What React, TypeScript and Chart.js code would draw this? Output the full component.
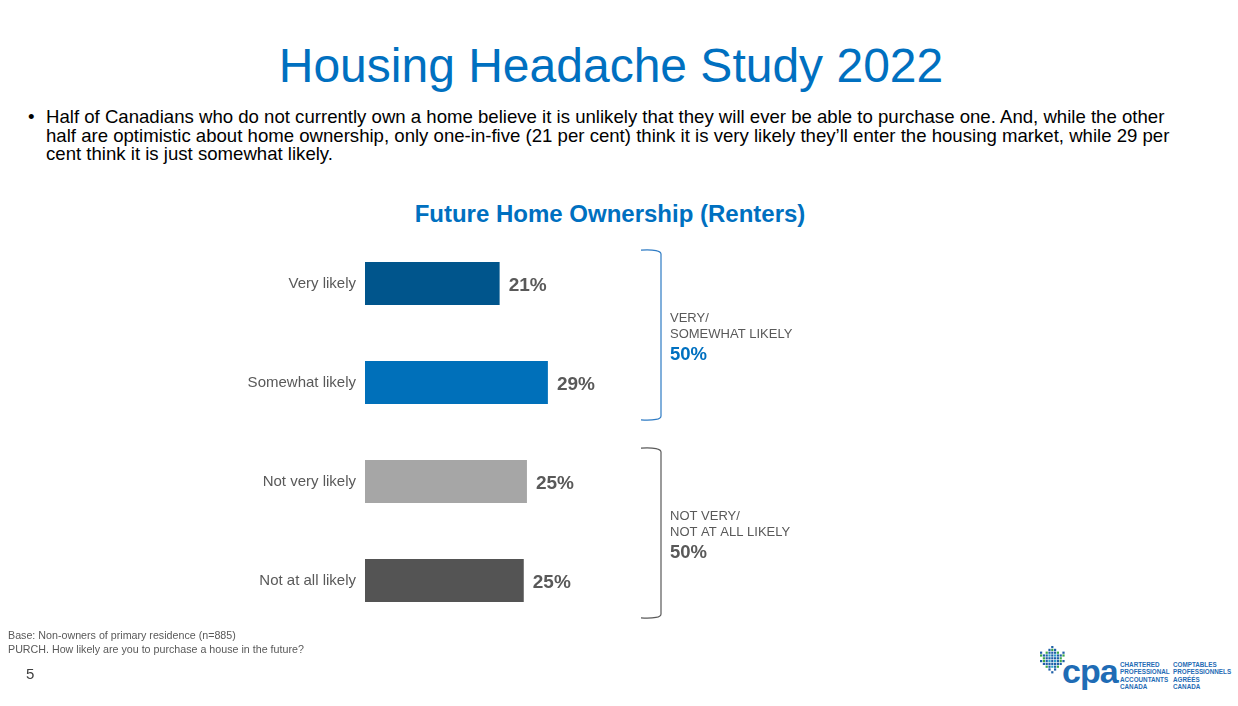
import React, { useEffect, useRef } from "react";
import { Chart, registerables } from "chart.js";

Chart.register(...registerables);

const title = "Housing Headache Study 2022";
const bulletLines = [
  "Half of Canadians who do not currently own a home believe it is unlikely that they will ever be able to purchase one. And, while the other",
  "half are optimistic about home ownership, only one-in-five (21 per cent) think it is very likely they\u2019ll enter the housing market, while 29 per",
  "cent think it is just somewhat likely.",
];
const chartTitle = "Future Home Ownership (Renters)";
const categories = ["Very likely", "Somewhat likely", "Not very likely", "Not at all likely"];
const values = [21.2, 28.8, 25.5, 25.0];
const valueLabels = ["21%", "29%", "25%", "25%"];
const barColors = ["#00558C", "#0070BA", "#A6A6A6", "#545454"];
const groupLabels = [
  ["VERY/", "SOMEWHAT LIKELY"],
  ["NOT VERY/", "NOT AT ALL LIKELY"],
];
const groupValues = ["50%", "50%"];
const groupRanges = [
  [0, 1],
  [2, 3],
];
const groupColors = ["#0070C0", "#595959"];
const groupLineColors = ["#2E7BC4", "#595959"];
const footnotes = [
  "Base: Non-owners of primary residence (n=885)",
  "PURCH. How likely are you to purchase a house in the future?",
];
const pageNumber = "5";

const FONT = "'Liberation Sans', Arial, sans-serif";

const leafPattern = [
  "....b....",
  "...bgb...",
  "b.gbbbg.b",
  "gbbtbtbbg",
  ".gbbbbbg.",
  "bgbtbtbgb",
  ".bbbbbbb.",
  "..gbtbg..",
  "...b.b...",
  "....b....",
];

function Logo() {
  const cell = 2.8;
  const rects: React.ReactElement[] = [];
  leafPattern.forEach((row, r) => {
    row.split("").forEach((c, col) => {
      if (c === ".") return;
      const fill = c === "b" ? "#1F5FA8" : c === "g" ? "#3DAA48" : "#29A3C8";
      rects.push(
        <rect key={r + "-" + col} x={col * cell} y={r * cell} width={cell - 0.6} height={cell - 0.6} fill={fill} />
      );
    });
  });
  const small: React.CSSProperties = {
    position: "absolute",
    fontFamily: FONT,
    fontSize: 6.3,
    lineHeight: "7.4px",
    color: "#1F6CB5",
    fontWeight: "bold",
    whiteSpace: "pre",
  };
  return (
    <div style={{ position: "absolute", left: 1038, top: 646, width: 200, height: 50 }}>
      <svg width={27} height={30} style={{ position: "absolute", left: 2, top: 0 }}>
        {rects}
      </svg>
      <div
        style={{
          position: "absolute",
          left: 24,
          top: 8,
          fontFamily: FONT,
          fontWeight: "bold",
          fontSize: 34,
          lineHeight: "34px",
          color: "#1F6CB5",
          letterSpacing: -1,
        }}
      >
        cpa
      </div>
      <div style={{ ...small, left: 82, top: 15 }}>{"CHARTERED\nPROFESSIONAL\nACCOUNTANTS\nCANADA"}</div>
      <div style={{ ...small, left: 135, top: 15 }}>{"COMPTABLES\nPROFESSIONNELS\nAGR\u00c9\u00c9S\nCANADA"}</div>
    </div>
  );
}

export default function App() {
  const canvasRef = useRef<HTMLCanvasElement | null>(null);

  useEffect(() => {
    if (!canvasRef.current) return;

    const valueLabelPlugin = {
      id: "valueLabels",
      afterDatasetsDraw(chart: any) {
        const ctx = chart.ctx;
        const meta = chart.getDatasetMeta(0);
        ctx.save();
        ctx.font = "bold 19px " + FONT;
        ctx.fillStyle = "#595959";
        ctx.textAlign = "left";
        ctx.textBaseline = "middle";
        meta.data.forEach((bar: any, i: number) => {
          ctx.fillText(valueLabels[i], bar.x + 9, bar.y + 2);
        });
        ctx.restore();
      },
    };

    const bracketPlugin = {
      id: "brackets",
      afterDraw(chart: any) {
        const ctx = chart.ctx;
        const meta = chart.getDatasetMeta(0);
        const xLeft = chart.chartArea.left + 276;
        const xRight = xLeft + 20;
        groupRanges.forEach((range, g) => {
          const b0 = meta.data[range[0]];
          const b1 = meta.data[range[1]];
          const top = b0.y - b0.height / 2 - 12;
          const bottom = b1.y + b1.height / 2 + 16;
          ctx.save();
          ctx.strokeStyle = groupLineColors[g];
          ctx.lineWidth = 1.2;
          ctx.beginPath();
          ctx.moveTo(xLeft, top);
          ctx.quadraticCurveTo(xRight, top - 1, xRight, top + 4);
          ctx.lineTo(xRight, bottom - 4);
          ctx.quadraticCurveTo(xRight, bottom + 1, xLeft, bottom);
          ctx.stroke();
          const mid = (top + bottom) / 2;
          const tx = xRight + 9;
          ctx.fillStyle = "#595959";
          ctx.font = "13px " + FONT;
          ctx.textAlign = "left";
          ctx.textBaseline = "middle";
          ctx.fillText(groupLabels[g][0], tx, mid - 17);
          ctx.fillText(groupLabels[g][1], tx, mid - 1);
          ctx.fillStyle = groupColors[g];
          ctx.font = "bold 18.5px " + FONT;
          ctx.fillText(groupValues[g], tx, mid + 19.5);
          ctx.restore();
        });
      },
    };

    const chart = new Chart(canvasRef.current, {
      type: "bar",
      data: {
        labels: categories,
        datasets: [
          {
            data: values,
            backgroundColor: barColors,
            borderWidth: 0,
            barPercentage: 0.433,
            categoryPercentage: 1,
          },
        ],
      },
      options: {
        indexAxis: "y",
        animation: false,
        responsive: false,
        maintainAspectRatio: false,
        layout: { padding: { top: 0, bottom: 0, left: 0, right: 50 } },
        plugins: {
          legend: { display: false },
          tooltip: { enabled: false },
          title: { display: false },
        },
        scales: {
          x: {
            display: false,
            min: 0,
            max: 68.5,
          },
          y: {
            grid: { display: false, drawTicks: false },
            border: { display: false },
            ticks: {
              color: "#595959",
              font: { family: FONT, size: 15 },
              padding: 9,
            },
            afterFit(scale: any) {
              scale.width = 365;
            },
          },
        },
      },
      plugins: [valueLabelPlugin, bracketPlugin],
    });
    return () => chart.destroy();
  }, []);

  return (
    <div
      style={{
        position: "absolute",
        left: 0,
        top: 0,
        width: 1238,
        height: 706,
        background: "#ffffff",
        overflow: "hidden",
        fontFamily: FONT,
      }}
    >
      <div
        style={{
          position: "absolute",
          left: 0,
          width: 1222,
          top: 36,
          textAlign: "center",
          fontSize: 48,
          lineHeight: "60px",
          color: "#0070C0",
        }}
      >
        {title}
      </div>
      <div style={{ position: "absolute", left: 28, top: 108, fontSize: 18.6, lineHeight: "18.6px", color: "#000" }}>
        {"\u2022"}
      </div>
      <div
        style={{
          position: "absolute",
          left: 46,
          top: 108,
          fontSize: 18.6,
          lineHeight: "18.6px",
          color: "#000",
          whiteSpace: "pre",
        }}
      >
        {bulletLines.join("\n")}
      </div>
      <div
        style={{
          position: "absolute",
          left: 0,
          width: 1220,
          top: 200,
          textAlign: "center",
          fontSize: 24,
          fontWeight: "bold",
          lineHeight: "28px",
          color: "#0070C0",
        }}
      >
        {chartTitle}
      </div>
      <canvas
        ref={canvasRef}
        width={850}
        height={432}
        style={{ position: "absolute", left: 0, top: 216, width: 850, height: 432 }}
      />
      <div
        style={{
          position: "absolute",
          left: 8,
          top: 628,
          fontSize: 10.7,
          lineHeight: "14px",
          color: "#595959",
          whiteSpace: "pre",
        }}
      >
        {footnotes.join("\n")}
      </div>
      <div style={{ position: "absolute", left: 26, top: 665, fontSize: 15, color: "#404040" }}>{pageNumber}</div>
      <Logo />
    </div>
  );
}
